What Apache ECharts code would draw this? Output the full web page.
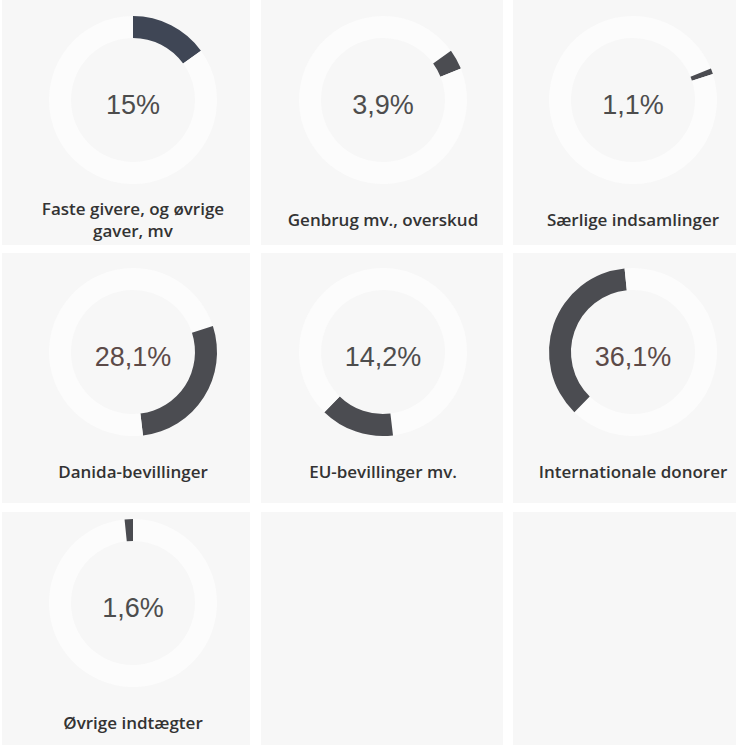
<!DOCTYPE html>
<html><head><meta charset="utf-8">
<script src="https://cdn.jsdelivr.net/npm/echarts@6/dist/echarts.min.js"></script>
<style>html,body{margin:0;padding:0;background:#fff}#c{width:740px;height:745px}</style>
</head><body><div id="c"></div>
<script>
// ---- data ----
const categories = [
  'Faste givere, og øvrige\ngaver, mv',
  'Genbrug mv., overskud',
  'Særlige indsamlinger',
  'Danida-bevillinger',
  'EU-bevillinger mv.',
  'Internationale donorer',
  'Øvrige indtægter'
];
const values = [15, 3.9, 1.1, 28.1, 14.2, 36.1, 1.6];
const total = 100;

// ---- layout / style ----
const colCenters = [133, 383, 633];
const rowCenters = [100, 352, 603];
const cellX = [[2, 250], [261, 503], [513, 736]];
const cellY = [[0, 245], [253, 503], [512, 745]];
const bgColor = '#f7f7f7';
const trackColor = '#fcfcfc';
const arcColors = ['#3f4655', '#4b4c51', '#4b4c51', '#4b4c51', '#4b4c51', '#4b4c51', '#4b4c51'];
const pctColors = ['#4d4d4d', '#4d4d4d', '#4d4d4d', '#5c4a48', '#4d4d4d', '#5c4a48', '#4d4d4d'];

function fmt(v) { return String(v).replace('.', ',') + '%'; }

const graphic = [];
for (let r = 0; r < 3; r++) {
  for (let c = 0; c < 3; c++) {
    graphic.push({
      type: 'rect', z: -10, silent: true,
      shape: { x: cellX[c][0], y: cellY[r][0], width: cellX[c][1] - cellX[c][0], height: cellY[r][1] - cellY[r][0] },
      style: { fill: bgColor }
    });
  }
}

const series = [];
let before = 0;
values.forEach((v, i) => {
  const r = Math.floor(i / 3), c = i % 3;
  const cx = colCenters[c], cy = rowCenters[r];
  series.push({
    type: 'pie',
    silent: true,
    center: [cx, cy],
    radius: [62, 84],
    startAngle: 90,
    clockwise: true,
    avoidLabelOverlap: false,
    labelLine: { show: false },
    label: { show: false },
    labelLayout: { dy: 5 },
    emphasis: { disabled: true },
    itemStyle: { borderWidth: 0 },
    animation: false,
    data: [
      { value: before, name: 'a' + i, itemStyle: { color: trackColor } },
      { value: v, name: categories[i], itemStyle: { color: arcColors[i] },
        label: { show: true, position: 'center', formatter: fmt(v),
          fontFamily: 'Liberation Sans', fontSize: 27, color: pctColors[i] } },
      { value: total - before - v, name: 'b' + i, itemStyle: { color: trackColor } }
    ]
  });
  graphic.push({
    type: 'text', silent: true,
    x: cx, y: cy + 119,
    style: {
      text: categories[i], textAlign: 'center', textVerticalAlign: 'middle',
      align: 'center', verticalAlign: 'middle',
      font: '600 17px "Open Sans", sans-serif', fill: '#333', lineHeight: 22
    }
  });
  before += v;
});

const chart = echarts.init(document.getElementById('c'), null, { renderer: 'svg' });
chart.setOption({ animation: false, graphic: graphic, series: series });
</script>
</body></html>
